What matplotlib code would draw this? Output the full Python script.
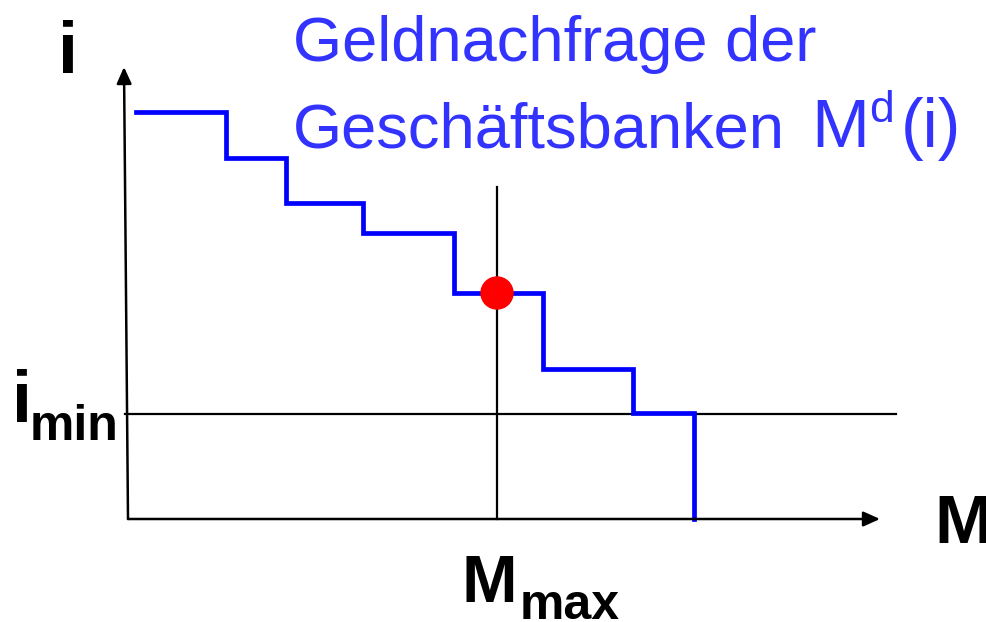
import matplotlib
matplotlib.use("Agg")
import matplotlib.pyplot as plt
from matplotlib.patches import Circle

# Data (coordinates relative to the origin of the diagram)
m_steps = [8, 98, 158, 235, 326, 415, 505, 566]     # M positions where steps change
i_levels = [407, 361, 316, 286, 226, 150, 106, 0]   # demand levels i
m_max = 369
i_min = 106
i_point = 226

plt.rcParams['font.family'] = ['Liberation Sans', 'DejaVu Sans']

fig = plt.figure(figsize=(9.86, 6.22), dpi=100)
ax = fig.add_axes([0, 0, 1, 1])
ax.set_xlim(-128, 858)
ax.set_ylim(-103, 519)
ax.axis('off')

# step curve
xs, ys = [m_steps[0]], [i_levels[0]]
for k in range(1, len(m_steps)):
    xs += [m_steps[k], m_steps[k]]
    ys += [i_levels[k - 1], i_levels[k]]
ax.plot(xs, ys, color='#0000ff', lw=3.4, solid_joinstyle='miter', zorder=3)

# axes with arrows
ax.annotate('', xy=(-4, 452), xytext=(0, 0),
            arrowprops=dict(arrowstyle='-|>,head_length=1.0,head_width=0.45',
                            color='black', lw=1.8, shrinkA=0, shrinkB=0))
ax.annotate('', xy=(752, 0), xytext=(0, 0),
            arrowprops=dict(arrowstyle='-|>,head_length=1.0,head_width=0.45',
                            color='black', lw=1.8, shrinkA=0, shrinkB=0))

# i_min horizontal line and M_max vertical line
ax.plot([-3, 768], [i_min - 0.5, i_min - 0.5], color='black', lw=1.6, zorder=2)
ax.plot([m_max, m_max], [0, 332], color='black', lw=1.6, zorder=2)

# red point
ax.add_patch(Circle((m_max, i_point), 16, color='#ff0000', zorder=4))

# labels
ax.text(-70, 446, 'i', fontsize=52, fontweight='bold', ha='left', va='baseline')
ax.text(806, -24, 'M', fontsize=50, fontweight='bold', ha='left', va='baseline')
ax.text(-116, 97, 'i', fontsize=52, fontweight='bold', ha='left', va='baseline')
ax.text(-98, 79, 'min', fontsize=36, fontweight='bold', ha='left', va='baseline')
ax.text(334, -83, 'M', fontsize=48, fontweight='bold', ha='left', va='baseline')
ax.text(392, -100, 'max', fontsize=36, fontweight='bold', ha='left', va='baseline')

title_col = '#3333ff'
ax.text(165, 458, 'Geldnachfrage der', fontsize=45.5, color=title_col, ha='left', va='baseline')
ax.text(165, 372, 'Geschäftsbanken', fontsize=45.5, color=title_col, ha='left', va='baseline')
ax.text(683, 372, 'M', fontsize=50, color=title_col, ha='left', va='baseline')
ax.text(741, 397, 'd', fontsize=32, color=title_col, ha='left', va='baseline')
ax.text(773, 372, '(i)', fontsize=49, color=title_col, ha='left', va='baseline')

fig.savefig('out.png', dpi=100)
